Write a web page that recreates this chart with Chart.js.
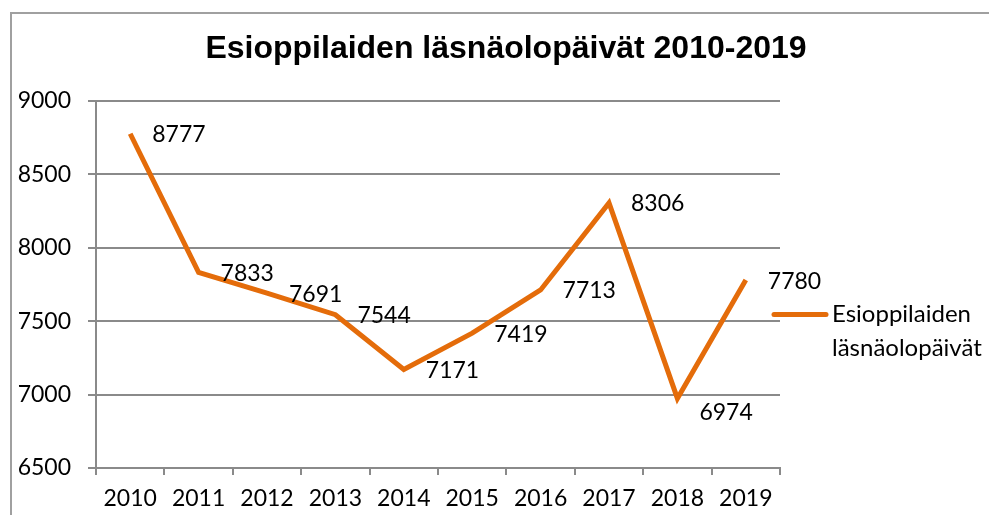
<!DOCTYPE html>
<html>
<head>
<meta charset="utf-8">
<script src="https://cdn.jsdelivr.net/npm/chart.js@4"></script>
<style>
  html, body { margin: 0; padding: 0; background: #fff; }
  #wrap { position: relative; width: 989px; height: 515px; overflow: hidden; }
  #frame { position: absolute; left: 10px; top: 12px; width: 1200px; height: 800px;
           border-left: 2px solid #a0a0a0; border-top: 2px solid #a0a0a0; }
  canvas { position: absolute; left: 0; top: 0; }
</style>
</head>
<body>
<div id="wrap">
  <div id="frame"></div>
  <canvas id="myChart" width="989" height="515"></canvas>
</div>
<script>
const years = ['2010', '2011', '2012', '2013', '2014', '2015', '2016', '2017', '2018', '2019'];
const days = [8777, 7833, 7691, 7544, 7171, 7419, 7713, 8306, 6974, 7780];
const seriesName = 'Esioppilaiden läsnäolopäivät';
const legendLines = ['Esioppilaiden', 'läsnäolopäivät'];
const chartTitle = 'Esioppilaiden läsnäolopäivät 2010-2019';

const orange = '#E46C0A';
const gray = '#8a8a8a';
const labelFont = '23px Lato, "Noto Sans", sans-serif';

// title centred on the whole frame, not on the plot
const frameTitle = {
  id: 'frameTitle',
  afterDraw(chart) {
    const ctx = chart.ctx;
    ctx.save();
    ctx.font = 'bold 32px "Liberation Sans", Arial, sans-serif';
    ctx.fillStyle = '#000';
    ctx.textAlign = 'center';
    ctx.textBaseline = 'middle';
    ctx.fillText(chartTitle, 506, 49);
    ctx.restore();
  }
};

// value labels to the right of each point
const valueLabels = {
  id: 'valueLabels',
  afterDatasetsDraw(chart) {
    const ctx = chart.ctx;
    const meta = chart.getDatasetMeta(0);
    ctx.save();
    ctx.font = labelFont;
    ctx.fillStyle = '#000';
    ctx.textAlign = 'left';
    ctx.textBaseline = 'middle';
    meta.data.forEach((pt, i) => {
      // the label of a sharp low point is pushed below the line, as in Excel
      const prev = days[i - 1], next = days[i + 1];
      const dip = prev !== undefined && next !== undefined && days[i] < prev - 500 && days[i] < next - 500;
      ctx.fillText(String(days[i]), pt.x + 22, pt.y + (dip ? 14 : 1));
    });
    ctx.restore();
  }
};

// legend on the right, text on two lines
const sideLegend = {
  id: 'sideLegend',
  afterDraw(chart) {
    const ctx = chart.ctx;
    const area = chart.chartArea;
    const y = chart.scales.y.getPixelForValue(7545);
    ctx.save();
    ctx.strokeStyle = orange;
    ctx.lineWidth = 5;
    ctx.lineCap = 'round';
    ctx.beginPath();
    ctx.moveTo(area.right - 6, y);
    ctx.lineTo(area.right + 46, y);
    ctx.stroke();
    ctx.font = '24px Lato, "Noto Sans", sans-serif';
    ctx.fillStyle = '#000';
    ctx.textBaseline = 'middle';
    ctx.fillText(legendLines[0], area.right + 52, y);
    ctx.fillText(legendLines[1], area.right + 52, y + 34);
    ctx.restore();
  }
};

const ctx = document.getElementById('myChart').getContext('2d');
const chart = new Chart(ctx, {
  type: 'line',
  data: {
    labels: years,
    datasets: [{
      label: seriesName,
      data: days,
      borderColor: orange,
      backgroundColor: orange,
      borderWidth: 5,
      pointRadius: 0,
      tension: 0,
      fill: false
    }]
  },
  options: {
    responsive: false,
    animation: false,
    layout: { padding: { left: 0, right: 209, top: 101, bottom: 0 } },
    plugins: {
      legend: { display: false },
      tooltip: { enabled: false },
      title: { display: false }
    },
    scales: {
      x: {
        offset: true,
        grid: { display: true, offset: true, drawOnChartArea: false, drawTicks: true, tickLength: 7, color: gray, lineWidth: 2 },
        border: { display: true, color: gray, width: 2 },
        ticks: { color: '#000', font: { family: 'Lato, "Noto Sans", sans-serif', size: 23 }, padding: 10, maxRotation: 0 },
        afterFit(scale) { scale.height = 47; }
      },
      y: {
        min: 6500,
        max: 9000,
        grid: { color: gray, lineWidth: 2, tickLength: 8 },
        border: { display: true, color: gray, width: 2 },
        ticks: {
          stepSize: 500,
          color: '#000',
          font: { family: 'Lato, "Noto Sans", sans-serif', size: 23 },
          padding: 17,
          callback: (v) => String(v)
        },
        afterFit(scale) { scale.width = 96; }
      }
    }
  },
  plugins: [valueLabels, sideLegend, frameTitle]
});
</script>
</body>
</html>
